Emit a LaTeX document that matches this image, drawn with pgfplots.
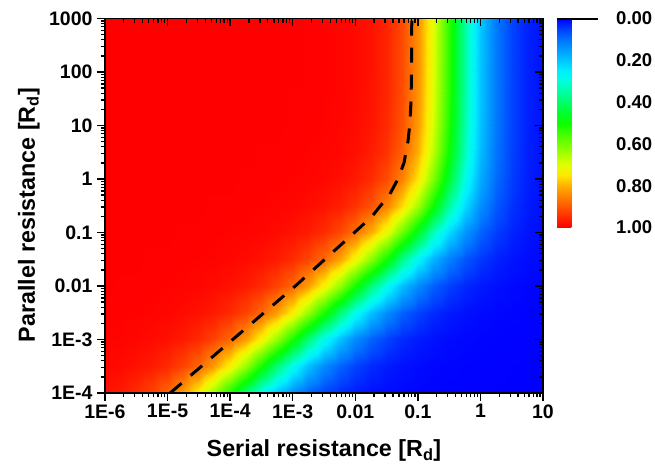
\documentclass[border=0pt]{standalone}
\usepackage{fontspec}
\setmainfont{Liberation Sans}
\usepackage{pgfplots}
\pgfplotsset{compat=1.18}
\def\minx{2e-6,3e-6,4e-6,5e-6,6e-6,7e-6,8e-6,9e-6,2e-5,3e-5,4e-5,5e-5,6e-5,7e-5,8e-5,9e-5,2e-4,3e-4,4e-4,5e-4,6e-4,7e-4,8e-4,9e-4,2e-3,3e-3,4e-3,5e-3,6e-3,7e-3,8e-3,9e-3,0.02,0.03,0.04,0.05,0.06,0.07,0.08,0.09,0.2,0.3,0.4,0.5,0.6,0.7,0.8,0.9,2,3,4,5,6,7,8,9}
\def\miny{2e-4,3e-4,4e-4,5e-4,6e-4,7e-4,8e-4,9e-4,2e-3,3e-3,4e-3,5e-3,6e-3,7e-3,8e-3,9e-3,0.02,0.03,0.04,0.05,0.06,0.07,0.08,0.09,0.2,0.3,0.4,0.5,0.6,0.7,0.8,0.9,2,3,4,5,6,7,8,9,20,30,40,50,60,70,80,90,200,300,400,500,600,700,800,900}
\pgfplotsset{colormap={origin}{
 rgb255(0cm)=(0,0,255) rgb255(1cm)=(0,63,255) rgb255(2cm)=(0,116,255) rgb255(3cm)=(0,157,255)
 rgb255(4cm)=(0,198,255) rgb255(5cm)=(0,239,255) rgb255(6cm)=(0,255,220) rgb255(7cm)=(0,255,162)
 rgb255(8cm)=(0,255,104) rgb255(9cm)=(0,255,46) rgb255(10cm)=(11,255,0) rgb255(11cm)=(64,255,0)
 rgb255(12cm)=(117,255,0) rgb255(13cm)=(170,255,0) rgb255(14cm)=(223,255,0) rgb255(15cm)=(255,232,0)
 rgb255(16cm)=(255,176,0) rgb255(17cm)=(255,130,0) rgb255(18cm)=(255,87,0) rgb255(19cm)=(255,43,0)
 rgb255(20cm)=(255,0,0)}}
\begin{document}
\begin{tikzpicture}
\useasboundingbox (0,0) rectangle (655pt,473pt);
\begin{axis}[
  at={(105pt,80pt)}, anchor=south west, scale only axis,
  width=438pt, height=374.5pt,
  xmode=log, ymode=log, xmin=1e-6, xmax=10, ymin=1e-4, ymax=1000,
  xtick={1e-6,1e-5,1e-4,1e-3,0.01,0.1,1,10},
  ytick={1e-4,1e-3,0.01,0.1,1,10,100,1000},
  minor xtick/.expand once=\minx,
  minor ytick/.expand once=\miny,
  major tick length=8pt, minor tick length=4.5pt,
  every tick/.style={black, line width=1.3pt},
  axis line style={line width=1.6pt},
  xticklabels={1E-6,1E-5,1E-4,1E-3,0.01,0.1,1,10},
  yticklabels={1E-4,1E-3,0.01,0.1,1,10,100,1000},
  xtick pos=left, ytick pos=left, tick align=outside,
  ticklabel style={font=\fontsize{19.5}{20}\selectfont\bfseries},
  yticklabel style={xshift=-1pt},
  xlabel={Serial resistance [R\textsubscript{d}]},
  ylabel={Parallel resistance [R\textsubscript{d}]},
  label style={font=\fontsize{23.3}{25}\selectfont\bfseries},
  xlabel style={at={(axis description cs:0.5,-0.170)}, anchor=base},
  ylabel style={at={(axis description cs:-0.16,0.475)}, anchor=base},
  colormap name=origin,
  point meta min=0, point meta max=1,
  colorbar,
  colorbar style={
    at={(parent axis.north east)}, anchor=north west, xshift=5.5pt,
    scale only axis, width=50pt, height=209pt,
    enlargelimits=false,
    y dir=reverse,
    ytick={0,0.2,0.4,0.6,0.8,1},
    yticklabels={0.00,0.20,0.40,0.60,0.80,1.00},
    yticklabel pos=right,
    major tick length=0pt,
    axis line style={draw=none},
    yticklabel style={font=\fontsize{18.5}{19}\selectfont\bfseries, anchor=west, inner sep=0pt, xshift=9pt},
  },
  axis on top,
]
\addplot[surf, shader=interp, mesh/cols=29, point meta=explicit] table[x=x, y=y, meta=z] {
x y z
1e-6 1e-4 0.981
1.778e-6 1e-4 0.970
3.162e-6 1e-4 0.952
5.623e-6 1e-4 0.923
1e-5 1e-4 0.881
1.778e-5 1e-4 0.819
3.162e-5 1e-4 0.735
5.623e-5 1e-4 0.629
1e-4 1e-4 0.510
1.778e-4 1e-4 0.390
3.162e-4 1e-4 0.281
5.623e-4 1e-4 0.193
1e-3 1e-4 0.128
1.778e-3 1e-4 0.0827
3.162e-3 1e-4 0.0525
5.623e-3 1e-4 0.0328
0.01 1e-4 0.0204
0.01778 1e-4 0.0126
0.03162 1e-4 0.0078
0.05623 1e-4 0.0048
0.1 1e-4 0.0029
0.1778 1e-4 0.0018
0.3162 1e-4 0.0011
0.5623 1e-4 0.0007
1 1e-4 0.0004
1.778 1e-4 0.0003
3.162 1e-4 0.0002
5.623 1e-4 0.0001
10 1e-4 0.0001

1e-6 3.162e-4 0.993
1.778e-6 3.162e-4 0.988
3.162e-6 3.162e-4 0.981
5.623e-6 3.162e-4 0.970
1e-5 3.162e-4 0.952
1.778e-5 3.162e-4 0.923
3.162e-5 3.162e-4 0.881
5.623e-5 3.162e-4 0.819
1e-4 3.162e-4 0.735
1.778e-4 3.162e-4 0.629
3.162e-4 3.162e-4 0.510
5.623e-4 3.162e-4 0.390
1e-3 3.162e-4 0.281
1.778e-3 3.162e-4 0.193
3.162e-3 3.162e-4 0.128
5.623e-3 3.162e-4 0.0827
0.01 3.162e-4 0.0525
0.01778 3.162e-4 0.0328
0.03162 3.162e-4 0.0204
0.05623 3.162e-4 0.0126
0.1 3.162e-4 0.0078
0.1778 3.162e-4 0.0048
0.3162 3.162e-4 0.0029
0.5623 3.162e-4 0.0018
1 3.162e-4 0.0011
1.778 3.162e-4 0.0007
3.162 3.162e-4 0.0004
5.623 3.162e-4 0.0003
10 3.162e-4 0.0002

1e-6 1e-3 0.997
1.778e-6 1e-3 0.996
3.162e-6 1e-3 0.993
5.623e-6 1e-3 0.988
1e-5 1e-3 0.981
1.778e-5 1e-3 0.970
3.162e-5 1e-3 0.952
5.623e-5 1e-3 0.923
1e-4 1e-3 0.881
1.778e-4 1e-3 0.819
3.162e-4 1e-3 0.735
5.623e-4 1e-3 0.629
1e-3 1e-3 0.510
1.778e-3 1e-3 0.390
3.162e-3 1e-3 0.281
5.623e-3 1e-3 0.193
0.01 1e-3 0.128
0.01778 1e-3 0.0826
0.03162 1e-3 0.0523
0.05623 1e-3 0.0327
0.1 1e-3 0.0203
0.1778 1e-3 0.0125
0.3162 1e-3 0.0077
0.5623 1e-3 0.0047
1 1e-3 0.0029
1.778 1e-3 0.0018
3.162 1e-3 0.0011
5.623 1e-3 0.0007
10 1e-3 0.0004

1e-6 3.162e-3 0.999
1.778e-6 3.162e-3 0.998
3.162e-6 3.162e-3 0.997
5.623e-6 3.162e-3 0.996
1e-5 3.162e-3 0.993
1.778e-5 3.162e-3 0.988
3.162e-5 3.162e-3 0.981
5.623e-5 3.162e-3 0.970
1e-4 3.162e-3 0.952
1.778e-4 3.162e-3 0.923
3.162e-4 3.162e-3 0.881
5.623e-4 3.162e-3 0.819
1e-3 3.162e-3 0.734
1.778e-3 3.162e-3 0.629
3.162e-3 3.162e-3 0.510
5.623e-3 3.162e-3 0.389
0.01 3.162e-3 0.281
0.01778 3.162e-3 0.193
0.03162 3.162e-3 0.128
0.05623 3.162e-3 0.0821
0.1 3.162e-3 0.0519
0.1778 3.162e-3 0.0323
0.3162 3.162e-3 0.0200
0.5623 3.162e-3 0.0123
1 3.162e-3 0.0075
1.778 3.162e-3 0.0046
3.162 3.162e-3 0.0028
5.623 3.162e-3 0.0017
10 3.162e-3 0.0010

1e-6 0.01 1.000
1.778e-6 0.01 0.999
3.162e-6 0.01 0.999
5.623e-6 0.01 0.998
1e-5 0.01 0.997
1.778e-5 0.01 0.996
3.162e-5 0.01 0.993
5.623e-5 0.01 0.988
1e-4 0.01 0.981
1.778e-4 0.01 0.970
3.162e-4 0.01 0.952
5.623e-4 0.01 0.923
1e-3 0.01 0.880
1.778e-3 0.01 0.818
3.162e-3 0.01 0.733
5.623e-3 0.01 0.627
0.01 0.01 0.508
0.01778 0.01 0.386
0.03162 0.01 0.278
0.05623 0.01 0.190
0.1 0.01 0.125
0.1778 0.01 0.080
0.3162 0.01 0.0501
0.5623 0.01 0.0309
1 0.01 0.0189
1.778 0.01 0.0114
3.162 0.01 0.0068
5.623 0.01 0.0040
10 0.01 0.0024

1e-6 0.03162 1.000
1.778e-6 0.03162 1.000
3.162e-6 0.03162 1.000
5.623e-6 0.03162 0.999
1e-5 0.03162 0.999
1.778e-5 0.03162 0.998
3.162e-5 0.03162 0.997
5.623e-5 0.03162 0.996
1e-4 0.03162 0.993
1.778e-4 0.03162 0.988
3.162e-4 0.03162 0.981
5.623e-4 0.03162 0.969
1e-3 0.03162 0.951
1.778e-3 0.03162 0.922
3.162e-3 0.03162 0.879
5.623e-3 0.03162 0.816
0.01 0.03162 0.729
0.01778 0.03162 0.621
0.03162 0.03162 0.499
0.05623 0.03162 0.376
0.1 0.03162 0.267
0.1778 0.03162 0.179
0.3162 0.03162 0.115
0.5623 0.03162 0.0717
1 0.03162 0.0435
1.778 0.03162 0.0258
3.162 0.03162 0.0150
5.623 0.03162 0.0086
10 0.03162 0.0048

1e-6 0.1 1.000
1.778e-6 0.1 1.000
3.162e-6 0.1 1.000
5.623e-6 0.1 1.000
1e-5 0.1 1.000
1.778e-5 0.1 0.999
3.162e-5 0.1 0.999
5.623e-5 0.1 0.998
1e-4 0.1 0.997
1.778e-4 0.1 0.996
3.162e-4 0.1 0.993
5.623e-4 0.1 0.988
1e-3 0.1 0.981
1.778e-3 0.1 0.969
3.162e-3 0.1 0.950
5.623e-3 0.1 0.919
0.01 0.1 0.873
0.01778 0.1 0.805
0.03162 0.1 0.712
0.05623 0.1 0.594
0.1 0.1 0.464
0.1778 0.1 0.335
0.3162 0.1 0.226
0.5623 0.1 0.142
1 0.1 0.0854
1.778 0.1 0.0490
3.162 0.1 0.0273
5.623 0.1 0.0148
10 0.1 0.0078

1e-6 0.3162 1.000
1.778e-6 0.3162 1.000
3.162e-6 0.3162 1.000
5.623e-6 0.3162 1.000
1e-5 0.3162 1.000
1.778e-5 0.3162 1.000
3.162e-5 0.3162 1.000
5.623e-5 0.3162 0.999
1e-4 0.3162 0.999
1.778e-4 0.3162 0.998
3.162e-4 0.3162 0.997
5.623e-4 0.3162 0.995
1e-3 0.3162 0.992
1.778e-3 0.3162 0.987
3.162e-3 0.3162 0.979
5.623e-3 0.3162 0.965
0.01 0.3162 0.943
0.01778 0.3162 0.906
0.03162 0.3162 0.848
0.05623 0.3162 0.761
0.1 0.3162 0.642
0.1778 0.3162 0.499
0.3162 0.3162 0.352
0.5623 0.3162 0.226
1 0.3162 0.134
1.778 0.3162 0.0742
3.162 0.3162 0.0395
5.623 0.3162 0.0203
10 0.3162 0.0103

1e-6 1 1.000
1.778e-6 1 1.000
3.162e-6 1 1.000
5.623e-6 1 1.000
1e-5 1 1.000
1.778e-5 1 1.000
3.162e-5 1 1.000
5.623e-5 1 1.000
1e-4 1 1.000
1.778e-4 1 0.999
3.162e-4 1 0.999
5.623e-4 1 0.998
1e-3 1 0.997
1.778e-3 1 0.995
3.162e-3 1 0.991
5.623e-3 1 0.984
0.01 1 0.972
0.01778 1 0.950
0.03162 1 0.913
0.05623 1 0.850
0.1 1 0.750
0.1778 1 0.611
0.3162 1 0.446
0.5623 1 0.290
1 1 0.170
1.778 1 0.092
3.162 1 0.0474
5.623 1 0.0237
10 1 0.0116

1e-6 3.162 1.000
1.778e-6 3.162 1.000
3.162e-6 3.162 1.000
5.623e-6 3.162 1.000
1e-5 3.162 1.000
1.778e-5 3.162 1.000
3.162e-5 3.162 1.000
5.623e-5 3.162 1.000
1e-4 3.162 1.000
1.778e-4 3.162 1.000
3.162e-4 3.162 0.999
5.623e-4 3.162 0.999
1e-3 3.162 0.998
1.778e-3 3.162 0.997
3.162e-3 3.162 0.995
5.623e-3 3.162 0.991
0.01 3.162 0.983
0.01778 3.162 0.968
0.03162 3.162 0.941
0.05623 3.162 0.889
0.1 3.162 0.801
0.1778 3.162 0.667
0.3162 3.162 0.496
0.5623 3.162 0.325
1 3.162 0.189
1.778 3.162 0.101
3.162 3.162 0.0513
5.623 3.162 0.0252
10 3.162 0.0122

1e-6 10 1.000
1.778e-6 10 1.000
3.162e-6 10 1.000
5.623e-6 10 1.000
1e-5 10 1.000
1.778e-5 10 1.000
3.162e-5 10 1.000
5.623e-5 10 1.000
1e-4 10 1.000
1.778e-4 10 1.000
3.162e-4 10 1.000
5.623e-4 10 1.000
1e-3 10 0.999
1.778e-3 10 0.998
3.162e-3 10 0.997
5.623e-3 10 0.994
0.01 10 0.988
0.01778 10 0.975
0.03162 10 0.951
0.05623 10 0.905
0.1 10 0.822
0.1778 10 0.691
0.3162 10 0.518
0.5623 10 0.340
1 10 0.198
1.778 10 0.105
3.162 10 0.0529
5.623 10 0.0259
10 10 0.0125

1e-6 31.62 1.000
1.778e-6 31.62 1.000
3.162e-6 31.62 1.000
5.623e-6 31.62 1.000
1e-5 31.62 1.000
1.778e-5 31.62 1.000
3.162e-5 31.62 1.000
5.623e-5 31.62 1.000
1e-4 31.62 1.000
1.778e-4 31.62 1.000
3.162e-4 31.62 1.000
5.623e-4 31.62 1.000
1e-3 31.62 0.999
1.778e-3 31.62 0.999
3.162e-3 31.62 0.997
5.623e-3 31.62 0.995
0.01 31.62 0.989
0.01778 31.62 0.978
0.03162 31.62 0.955
0.05623 31.62 0.911
0.1 31.62 0.830
0.1778 31.62 0.700
0.3162 31.62 0.527
0.5623 31.62 0.346
1 31.62 0.201
1.778 31.62 0.1066
3.162 31.62 0.0535
5.623 31.62 0.0261
10 31.62 0.0126

1e-6 100 1.000
1.778e-6 100 1.000
3.162e-6 100 1.000
5.623e-6 100 1.000
1e-5 100 1.000
1.778e-5 100 1.000
3.162e-5 100 1.000
5.623e-5 100 1.000
1e-4 100 1.000
1.778e-4 100 1.000
3.162e-4 100 1.000
5.623e-4 100 1.000
1e-3 100 1.000
1.778e-3 100 0.999
3.162e-3 100 0.998
5.623e-3 100 0.995
0.01 100 0.990
0.01778 100 0.979
0.03162 100 0.957
0.05623 100 0.913
0.1 100 0.834
0.1778 100 0.704
0.3162 100 0.530
0.5623 100 0.348
1 100 0.202
1.778 100 0.107
3.162 100 0.0538
5.623 100 0.0262
10 100 0.0126

1e-6 316.2 1.000
1.778e-6 316.2 1.000
3.162e-6 316.2 1.000
5.623e-6 316.2 1.000
1e-5 316.2 1.000
1.778e-5 316.2 1.000
3.162e-5 316.2 1.000
5.623e-5 316.2 1.000
1e-4 316.2 1.000
1.778e-4 316.2 1.000
3.162e-4 316.2 1.000
5.623e-4 316.2 1.000
1e-3 316.2 1.000
1.778e-3 316.2 0.999
3.162e-3 316.2 0.998
5.623e-3 316.2 0.995
0.01 316.2 0.990
0.01778 316.2 0.979
0.03162 316.2 0.957
0.05623 316.2 0.914
0.1 316.2 0.835
0.1778 316.2 0.705
0.3162 316.2 0.531
0.5623 316.2 0.349
1 316.2 0.203
1.778 316.2 0.107
3.162 316.2 0.0539
5.623 316.2 0.0262
10 316.2 0.0126

1e-6 1000 1.000
1.778e-6 1000 1.000
3.162e-6 1000 1.000
5.623e-6 1000 1.000
1e-5 1000 1.000
1.778e-5 1000 1.000
3.162e-5 1000 1.000
5.623e-5 1000 1.000
1e-4 1000 1.000
1.778e-4 1000 1.000
3.162e-4 1000 1.000
5.623e-4 1000 1.000
1e-3 1000 1.000
1.778e-3 1000 0.999
3.162e-3 1000 0.998
5.623e-3 1000 0.995
0.01 1000 0.990
0.01778 1000 0.980
0.03162 1000 0.958
0.05623 1000 0.915
0.1 1000 0.835
0.1778 1000 0.706
0.3162 1000 0.532
0.5623 1000 0.350
1 1000 0.203
1.778 1000 0.1075
3.162 1000 0.0539
5.623 1000 0.0263
10 1000 0.0126
};
\addplot[black, line width=3pt, dash pattern=on 15pt off 12pt] coordinates {
(1.1e-5,1e-4) (1.1e-4,1e-3) (1.1e-3,1e-2) (0.0097,0.1) (0.0185,0.2) (0.026,0.33)
(0.035,0.5) (0.048,1) (0.060,2) (0.0695,5) (0.074,10) (0.078,30) (0.079,100) (0.080,1000)
};
\end{axis}
\begin{axis}[
  at={(105pt,80pt)}, anchor=south west, scale only axis,
  width=438pt, height=374.5pt,
  xmode=log, ymode=log, xmin=1e-6, xmax=10, ymin=1e-4, ymax=1000,
  xtick={1e-6,1e-5,1e-4,1e-3,0.01,0.1,1,10},
  ytick={1e-4,1e-3,0.01,0.1,1,10,100,1000},
  minor xtick/.expand once=\minx,
  minor ytick/.expand once=\miny,
  major tick length=8pt, minor tick length=4.5pt,
  every tick/.style={black, line width=1.3pt},
  axis line style={line width=1.6pt},
  xticklabels={}, yticklabels={},
  xtick pos=right, ytick pos=right, tick align=inside,
]
\end{axis}
\draw[line width=2pt] (557pt,454pt) -- (598pt,454pt);
\end{tikzpicture}
\end{document}
